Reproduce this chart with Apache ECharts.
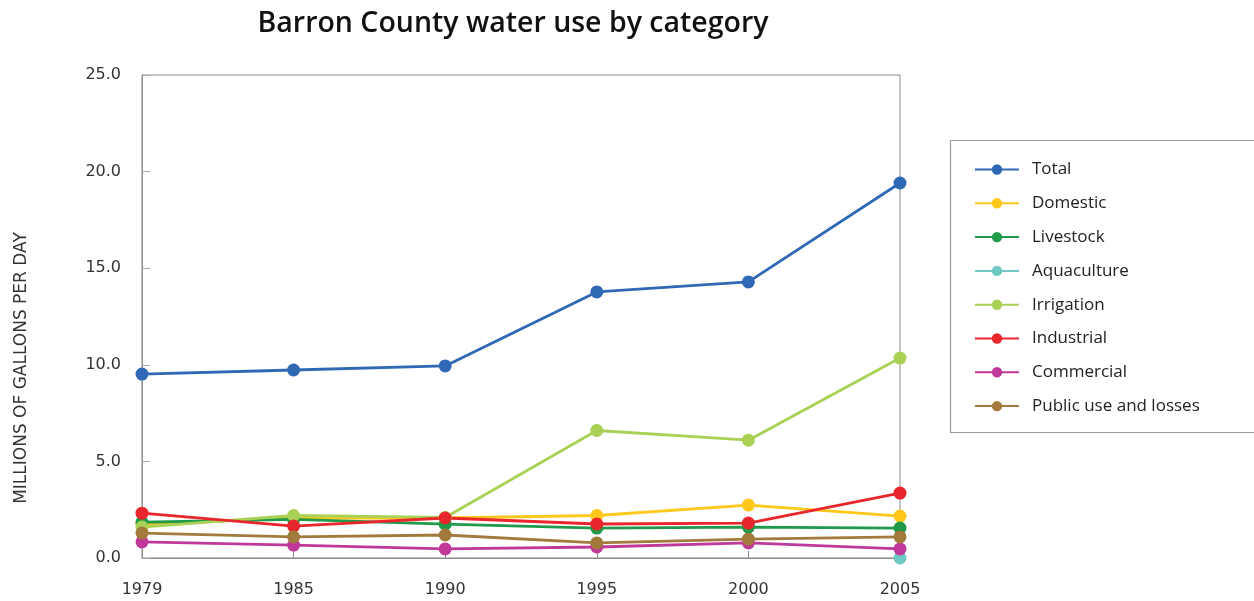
<!DOCTYPE html>
<html><head><meta charset="utf-8">
<script src="https://cdn.jsdelivr.net/npm/echarts@6/dist/echarts.min.js"></script>
<style>html,body{margin:0;padding:0;background:#fff}#c{width:1254px;height:601px}</style>
</head><body><div id="c"></div>
<script>
const years = ['1979','1985','1990','1995','2000','2005'];
const yTicks = [0, 5, 10, 15, 20, 25];
const total      = [9.52, 9.73, 9.94, 13.77, 14.29, 19.41];
const domestic   = [1.75, 2.07, 2.07, 2.2, 2.74, 2.17];
const livestock  = [1.85, 2.0, 1.75, 1.55, 1.6, 1.55];
const aquaculture= [null, null, null, null, null, 0];
const irrigation = [1.6, 2.2, 2.1, 6.6, 6.1, 10.35];
const industrial = [2.32, 1.65, 2.07, 1.76, 1.81, 3.36];
const commercial = [0.83, 0.67, 0.47, 0.57, 0.78, 0.47];
const publicUse  = [1.29, 1.09, 1.19, 0.78, 0.98, 1.09];
const seriesNames = ['Total','Domestic','Livestock','Aquaculture','Irrigation','Industrial','Commercial','Public use and losses'];
const seriesData = [total, domestic, livestock, aquaculture, irrigation, industrial, commercial, publicUse];
const colors = ['#2f69b5','#ffc81a','#1f9a4a','#6fc8c4','#a8d156','#e8262c','#c0399a','#a27a3c'];

const font = '"DejaVu Sans", sans-serif';
const chart = echarts.init(document.getElementById('c'), null, {renderer:'canvas'});
chart.setOption({
  animation: false,
  color: colors,
  title: {
    text: 'Barron County water use by category',
    left: 508, top: 4, textAlign: 'center',
    textStyle: {fontFamily: '"Open Sans", sans-serif', fontWeight: 600, fontSize: 28.5, color: '#111'}
  },
  grid: {left: 142, right: 354, top: 75, bottom: 43, show: true, borderColor: '#8a8a8a', borderWidth: 1, backgroundColor: 'transparent'},
  legend: {
    orient: 'vertical', left: 969, top: 156,
    itemWidth: 44, itemHeight: 13, itemGap: 16.8,
    textStyle: {fontFamily: '"Open Sans", sans-serif', fontSize: 17, color: '#222', padding: [0,0,0,8]},
    data: seriesNames
  },
  graphic: [
    {type: 'rect', shape: {x: 950.5, y: 140.5, width: 320, height: 292}, style: {fill: 'none', stroke: '#9a9a9a', lineWidth: 1.2}, z: 0},
    {type: 'text', x: 22, y: 368, rotation: Math.PI/2, style: {text: 'MILLIONS OF GALLONS PER DAY', fontFamily: '"DejaVu Sans", sans-serif', fontSize: 17, fill: '#333', align: 'center', verticalAlign: 'middle'}}
  ],
  xAxis: {
    type: 'category', data: years, boundaryGap: false,
    axisLine: {lineStyle: {color: '#8a8a8a'}},
    axisTick: {inside: true, length: 7, lineStyle: {color: '#8a8a8a'}},
    axisLabel: {margin: 24, fontFamily: font, fontSize: 16, color: '#333'}
  },
  yAxis: {
    type: 'value', min: yTicks[0], max: yTicks[yTicks.length-1], interval: 5,
    splitLine: {show: false},
    axisLine: {show: true, lineStyle: {color: '#8a8a8a'}},
    axisTick: {show: true, inside: true, length: 8, lineStyle: {color: '#aaa'}},
    axisLabel: {margin: 21, fontFamily: font, fontSize: 16, color: '#333', formatter: v => v.toFixed(1)}
  },
  series: seriesNames.map((n, i) => ({
    name: n, type: 'line', data: seriesData[i],
    symbol: 'circle', symbolSize: 13, lineStyle: {width: 2.8},
    connectNulls: false
  }))
});
</script></body></html>
